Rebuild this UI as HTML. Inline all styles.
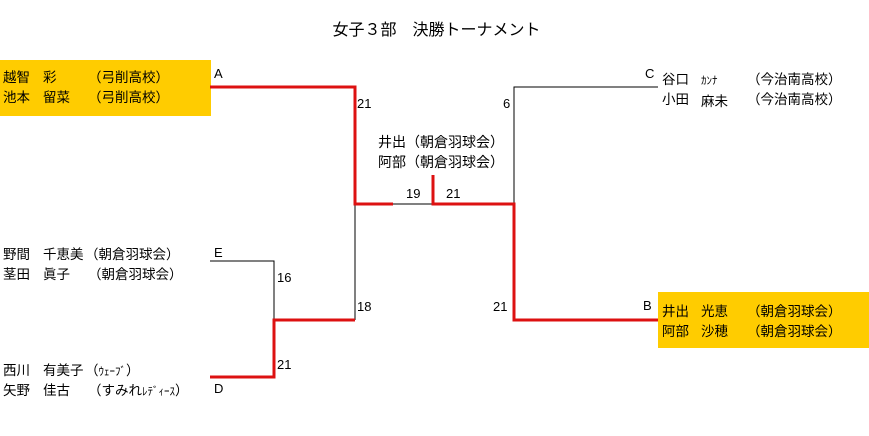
<!DOCTYPE html>
<html><head><meta charset="utf-8"><style>
body{margin:0;width:869px;height:436px;background:#fff;position:relative;overflow:hidden;font-family:"Liberation Sans","Noto Sans CJK JP",sans-serif;font-size:13px;color:#000}
.t{position:absolute;white-space:pre;line-height:20px}
.j{font-family:"Noto Sans CJK JP",sans-serif;font-size:13.5px}
.box{position:absolute;background:#ffcc00}
.h{font-size:11px}
</style></head><body>
<div class="box" style="left:0;top:60px;width:211px;height:56px"></div>
<div class="box" style="left:658px;top:292px;width:211px;height:56px"></div>
<svg width="869" height="436" style="position:absolute;left:0;top:0">
<g stroke="#000" stroke-width="1" fill="none">
<polyline points="514,204 514,87 658,87"/>
<polyline points="355,204 355,320"/>
<line x1="393" y1="204" x2="433" y2="204"/>
<polyline points="210,261 274,261 274,320"/>
</g>
<g stroke="#dd1111" stroke-width="3" fill="none">
<polyline points="210,87 355,87 355,204 393,204"/>
<polyline points="433,175 433,204 514,204 514,320 658,320"/>
<polyline points="355,320 274,320 274,377 210,377"/>
</g>
</svg>
<div class="t j" style="left:0;top:18px;width:869px;text-align:center;font-size:16px;padding-left:2px">女子３部　決勝トーナメント</div>

<div class="t j" style="left:3px;top:66px">越智
池本</div>
<div class="t j" style="left:43px;top:66px">彩
留菜</div>
<div class="t j" style="left:88px;top:66px">（弓削高校）
（弓削高校）</div>
<div class="t" style="left:214px;top:64px">A</div>
<div class="t" style="left:357px;top:94px">21</div>
<div class="t j" style="left:378px;top:132px;font-size:14px">井出（朝倉羽球会）
阿部（朝倉羽球会）</div>
<div class="t" style="left:406px;top:184px">19</div>
<div class="t" style="left:446px;top:184px">21</div>
<div class="t" style="left:503px;top:94px">6</div>
<div class="t" style="left:645px;top:64px">C</div>
<div class="t j" style="left:662px;top:68px">谷口
小田</div>
<div class="t j" style="left:701px;top:68px"><span class="h">ｶﾝﾅ</span>
麻未</div>
<div class="t j" style="left:747px;top:68px">（今治南高校）
（今治南高校）</div>

<div class="t j" style="left:3px;top:243px">野間
茎田</div>
<div class="t j" style="left:43px;top:243px">千恵美
眞子</div>
<div class="t j" style="left:85px;top:243px">（朝倉羽球会）</div>
<div class="t j" style="left:88px;top:263px">（朝倉羽球会）</div>
<div class="t" style="left:214px;top:243px">E</div>
<div class="t" style="left:277px;top:268px">16</div>
<div class="t" style="left:357px;top:297px">18</div>
<div class="t" style="left:493px;top:297px">21</div>
<div class="t" style="left:643px;top:296px">B</div>
<div class="t j" style="left:662px;top:300px">井出
阿部</div>
<div class="t j" style="left:701px;top:300px">光恵
沙穂</div>
<div class="t j" style="left:747px;top:300px">（朝倉羽球会）
（朝倉羽球会）</div>
<div class="t" style="left:277px;top:355px">21</div>
<div class="t j" style="left:3px;top:359px">西川
矢野</div>
<div class="t j" style="left:43px;top:359px">有美子
佳古</div>
<div class="t j" style="left:85px;top:359px">（<span class="h">ｳｪｰﾌﾞ</span>）</div>
<div class="t j" style="left:88px;top:379px">（すみれ<span class="h">ﾚﾃﾞｨｰｽ</span>）</div>
<div class="t" style="left:214px;top:379px">D</div>
</body></html>
